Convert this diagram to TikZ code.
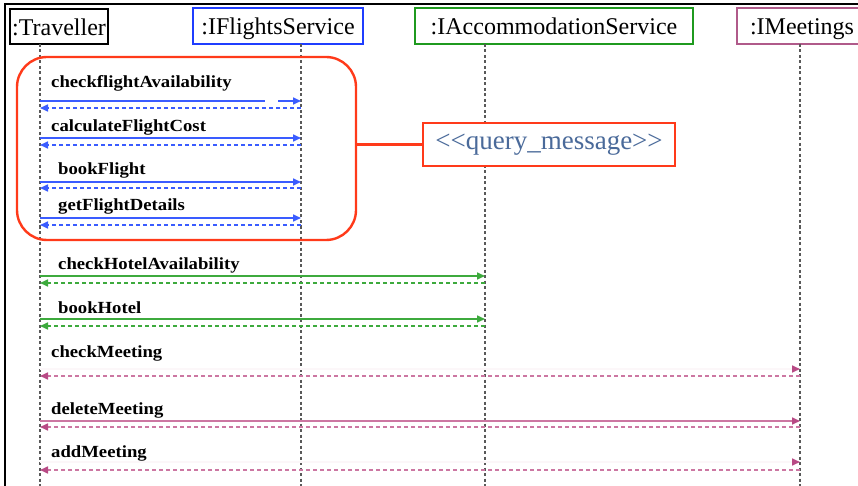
\documentclass[tikz,border=0pt]{standalone}
\usepackage{fontspec}
\setmainfont{Liberation Serif}
\newfontfamily\msgfont[FakeStretch=1.1]{Liberation Serif}
\usetikzlibrary{arrows.meta}

\definecolor{flightblue}{HTML}{1F3DFF}
\definecolor{flightarrow}{HTML}{3A5CFF}
\definecolor{hotelgreen}{HTML}{1F9A1F}
\definecolor{hotelarrow}{HTML}{3DAA3D}
\definecolor{meetpink}{HTML}{B05A8A}
\definecolor{meetarrow}{HTML}{CC77A2}
\definecolor{meettip}{HTML}{B84A85}
\definecolor{groupred}{HTML}{FF3A1A}
\definecolor{stereotext}{HTML}{4A6A9A}

\tikzset{
  header/.style={draw, line width=2.2pt, fill=white, inner sep=0pt,
    text height=24pt, text depth=6pt,
    font=\fontsize{24}{26}\selectfont, text=black},
  lifeline/.style={draw=black!65, line width=1.9pt, dash pattern=on 3pt off 2.5pt},
  msglabel/.style={anchor=base west, inner sep=0pt,
    font=\msgfont\bfseries\fontsize{17}{19}\selectfont},
  tip/.style={-{Triangle[length=8pt,width=7pt]}},
  call/.style={line width=1.6pt, tip},
  reply/.style={line width=1.6pt, dash pattern=on 4pt off 3pt, tip},
  pinktip/.style={-{Triangle[length=8pt,width=7pt,color=meettip]}},
}

\begin{document}
\begin{tikzpicture}[x=1pt,y=-1pt]
\useasboundingbox (0,0) rectangle (858,486);

% outer frame (top and left edges)
\draw[line width=2.5pt] (5,486) -- (5,4) -- (858,4);

% participants
\node[header, draw=black, minimum width=98pt, minimum height=35pt] (trav) at (59,26.5) {:Traveller};
\node[header, draw=flightblue, minimum width=170pt, minimum height=36pt] (flights) at (278,26) {:IFlightsService};
\node[header, draw=hotelgreen, minimum width=278pt, minimum height=36pt] (accom) at (554,26) {:IAccommodationService};
\node[header, draw=meetpink, minimum width=130pt, minimum height=36pt] (meet) at (802,26) {:IMeetings};

% lifelines
\coordinate (tr) at (40,44);
\coordinate (fl) at (301,44);
\coordinate (ac) at (485,44);
\coordinate (me) at (800,44);
\draw[lifeline] (tr) -- (tr |- 0,486);
\draw[lifeline] (fl) -- (fl |- 0,486);
\draw[lifeline] (ac) -- (ac |- 0,486);
\draw[lifeline] (me) -- (me |- 0,486);

% query message group and its stereotype note
\node[draw=groupred, line width=2.4pt, rounded corners=30pt,
      minimum width=339pt, minimum height=183pt, inner sep=0pt] (grp) at (186.5,148.5) {};
\node[draw=groupred, line width=2.4pt, fill=white, inner sep=0pt,
      minimum width=252pt, minimum height=43pt, text=stereotext,
      font=\fontsize{27}{29}\selectfont] (note) at (549,144.5) {{<}{<}query\_message{>}{>}};
\draw[groupred, line width=2.4pt] (grp.east |- note) -- (note.west);

% flight service messages
\node[msglabel] (m1) at (51,88) {checkflightAvailability};
\coordinate (gapA) at (265,101);
\coordinate (gapB) at (278,101);
\draw[flightarrow, line width=1.6pt] (tr |- 0,101) -- (gapA);
\draw[call, flightarrow] (gapB) -- (fl |- 0,101);
\draw[reply, flightarrow] (fl |- 0,108) -- (tr |- 0,108);

\node[msglabel] (m2) at (51,132) {calculateFlightCost};
\draw[call, flightarrow] (tr |- 0,138) -- (fl |- 0,138);
\draw[reply, flightarrow] (fl |- 0,145) -- (tr |- 0,145);

\node[msglabel] (m3) at (58,175) {bookFlight};
\draw[call, flightarrow] (tr |- 0,182) -- (fl |- 0,182);
\draw[reply, flightarrow] (fl |- 0,188) -- (tr |- 0,188);

\node[msglabel] (m4) at (58,211) {getFlightDetails};
\draw[call, flightarrow] (tr |- 0,218) -- (fl |- 0,218);
\draw[reply, flightarrow] (fl |- 0,225) -- (tr |- 0,225);

% accommodation service messages
\node[msglabel] (m5) at (58,269) {checkHotelAvailability};
\draw[call, hotelarrow] (tr |- 0,276) -- (ac |- 0,276);
\draw[reply, hotelarrow] (ac |- 0,283) -- (tr |- 0,283);

\node[msglabel] (m6) at (58,313) {bookHotel};
\draw[call, hotelarrow] (tr |- 0,319) -- (ac |- 0,319);
\draw[reply, hotelarrow] (ac |- 0,326) -- (tr |- 0,326);

% meetings messages
\node[msglabel] (m7) at (51,357) {checkMeeting};
\draw[line width=1.6pt, draw=meetarrow!6, pinktip] (tr |- 0,369) -- (me |- 0,369);
\draw[reply, meetarrow, pinktip] (me |- 0,376) -- (tr |- 0,376);

\node[msglabel] (m8) at (51,414) {deleteMeeting};
\draw[call, meetarrow, pinktip] (tr |- 0,421) -- (me |- 0,421);
\draw[reply, meetarrow, pinktip] (me |- 0,427) -- (tr |- 0,427);

\node[msglabel] (m9) at (51,457) {addMeeting};
\draw[line width=1.6pt, draw=meetarrow!6, pinktip] (tr |- 0,462) -- (me |- 0,462);
\draw[reply, meetarrow, pinktip] (me |- 0,470) -- (tr |- 0,470);
\end{tikzpicture}
\end{document}
